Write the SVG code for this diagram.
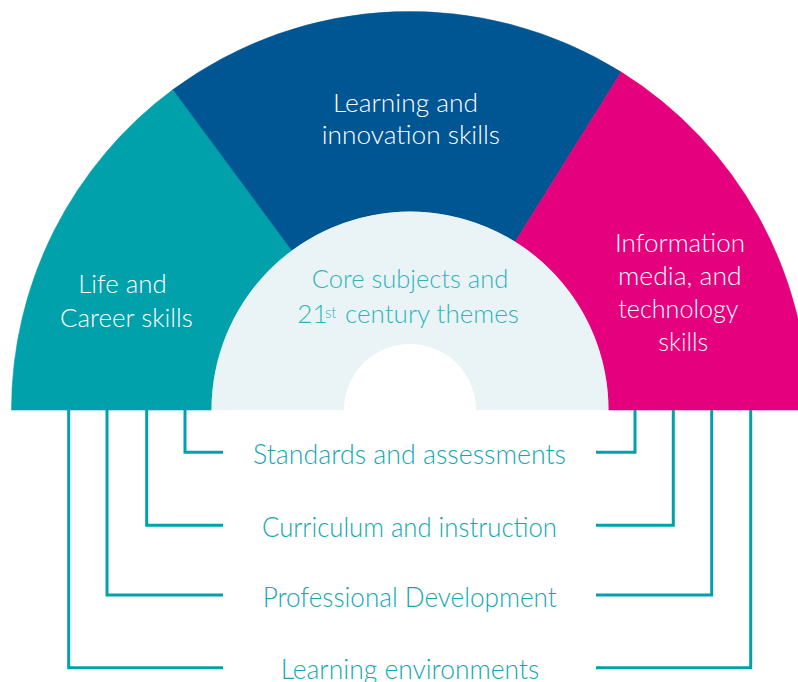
<svg xmlns="http://www.w3.org/2000/svg" width="798" height="682" viewBox="0 0 798 682">
<style>
.lbl{font-family:"Lato","Open Sans","Liberation Sans",sans-serif;font-weight:300;font-size:26px}
.w{fill:#ffffff}
.bt{fill:#12a8b1;font-size:27px}
.ct{fill:#2fb4bc}
.conn{fill:none;stroke:#00a1ab;stroke-width:3}
</style>
<rect width="798" height="682" fill="#ffffff"/>
<g id="life-career">
<path d="M11.5,410 A398.5,398.5 0 0 1 173.0,89.6 L291.9,250.4 A198.5,198.5 0 0 0 211.5,410 Z" fill="#00a1ab" stroke="#00a1ab" stroke-width="0.6"/>
<text class="lbl w" x="78.3" y="293.3" textLength="88.4" lengthAdjust="spacingAndGlyphs">Life and</text>
<text class="lbl w" x="60" y="326.7" textLength="132.7" lengthAdjust="spacingAndGlyphs">Career skills</text>
</g>
<g id="learning-innovation">
<path d="M173.0,89.6 A398.5,398.5 0 0 1 621.2,72.1 L515.2,241.7 A198.5,198.5 0 0 0 291.9,250.4 Z" fill="#005593" stroke="#005593" stroke-width="0.6"/>
<text class="lbl w" x="333" y="111.7" textLength="145" lengthAdjust="spacingAndGlyphs">Learning and</text>
<text class="lbl w" x="321.7" y="143.5" textLength="178.3" lengthAdjust="spacingAndGlyphs">innovation skills</text>
</g>
<g id="information-media">
<path d="M621.2,72.1 A398.5,398.5 0 0 1 808.5,410 L608.5,410 A198.5,198.5 0 0 0 515.2,241.7 Z" fill="#e5007d" stroke="#e5007d" stroke-width="0.6"/>
<text class="lbl w" x="615" y="251.7" textLength="130" lengthAdjust="spacingAndGlyphs">Information</text>
<text class="lbl w" x="618" y="284.5" textLength="123.7" lengthAdjust="spacingAndGlyphs">media, and</text>
<text class="lbl w" x="618.3" y="317.5" textLength="120" lengthAdjust="spacingAndGlyphs">technology</text>
<text class="lbl w" x="658.3" y="350.7" textLength="50" lengthAdjust="spacingAndGlyphs">skills</text>
</g>
<g id="core-subjects">
<path d="M211.5,410 A198.5,198.5 0 0 1 608.5,410 L476,410 A66,66 0 0 0 344,410 Z" fill="#eaf4f7"/>
<text class="lbl ct" x="311.7" y="288.3" textLength="196.6" lengthAdjust="spacingAndGlyphs">Core subjects and</text>
<text class="lbl ct" x="297.3" y="323.3">21<tspan x="325" y="318" style="font-size:15px">st</tspan><tspan x="345" y="323.3">century themes</tspan></text>
</g>
<g id="connectors">
<polyline class="conn" points="185,410 185,452.3 223,452.3"/>
<polyline class="conn" points="146.7,410 146.7,525.3 223,525.3"/>
<polyline class="conn" points="107,410 107,595 223,595"/>
<polyline class="conn" points="68.7,410 68.7,667.7 223,667.7"/>
<polyline class="conn" points="596,452.3 635,452.3 635,410"/>
<polyline class="conn" points="596,525.3 673.3,525.3 673.3,410"/>
<polyline class="conn" points="596,595 711.7,595 711.7,410"/>
<polyline class="conn" points="596,667.7 750.7,667.7 750.7,410"/>
</g>
<g id="standards">
<text class="lbl bt" x="253" y="464" textLength="313" lengthAdjust="spacingAndGlyphs">Standards and assessments</text>
</g>
<g id="curriculum">
<text class="lbl bt" x="262" y="536.5" textLength="295" lengthAdjust="spacingAndGlyphs">Curriculum and instruction</text>
</g>
<g id="professional-development">
<text class="lbl bt" x="262.7" y="606.5" textLength="294" lengthAdjust="spacingAndGlyphs">Professional Development</text>
</g>
<g id="learning-environments">
<text class="lbl bt" x="280.7" y="678.5" textLength="258.6" lengthAdjust="spacingAndGlyphs">Learning environments</text>
</g>
</svg>
